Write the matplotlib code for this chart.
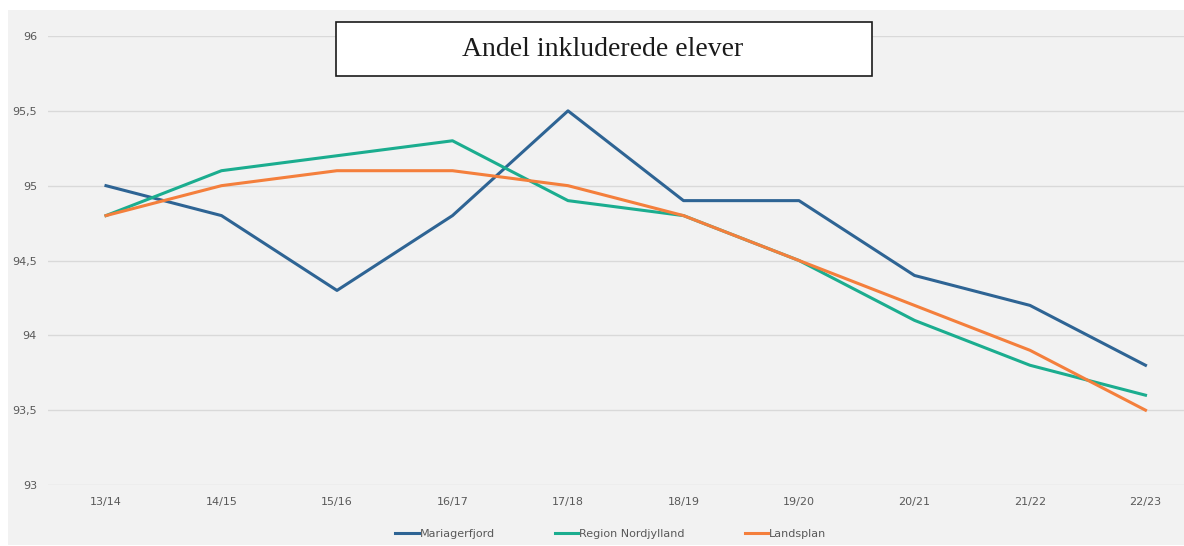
import matplotlib.pyplot as plt
from matplotlib.patches import Rectangle
from matplotlib.ticker import FuncFormatter

# Andel inkluderede elever - line chart, three series

seasons = ["13/14", "14/15", "15/16", "16/17", "17/18",
           "18/19", "19/20", "20/21", "21/22", "22/23"]
mariagerfjord = [95.0, 94.8, 94.3, 94.8, 95.5, 94.9, 94.9, 94.4, 94.2, 93.8]
nordjylland = [94.8, 95.1, 95.2, 95.3, 94.9, 94.8, 94.5, 94.1, 93.8, 93.6]
landsplan = [94.8, 95.0, 95.1, 95.1, 95.0, 94.8, 94.5, 94.2, 93.9, 93.5]
y_ticks = [93, 93.5, 94, 94.5, 95, 95.5, 96]

BLUE = "#2e6494"
TEAL = "#1bad8f"
ORANGE = "#f47f3c"
BG = "#f2f2f2"
TXT = "#595959"

W, H = 1184, 546

fig = plt.figure(figsize=(W / 100, H / 100), dpi=100)
fig.patch.set_facecolor("white")

# gray chart area (cropped screenshot, white margin at left/top)
fig.add_artist(Rectangle((8 / W, 1 - 545 / H), 1 - 8 / W, (545 - 10) / H,
                         transform=fig.transFigure, facecolor=BG,
                         edgecolor="none", zorder=0))

# axes in pixel coords: y 96 at 36px, 93 at 485px
ax = fig.add_axes([48 / W, 1 - 485 / H, (W - 48) / W, (485 - 36) / H])
ax.set_facecolor("none")

x = list(range(len(seasons)))
ax.plot(x, mariagerfjord, color=BLUE, lw=2.2, label="Mariagerfjord",
        solid_joinstyle="round")
ax.plot(x, nordjylland, color=TEAL, lw=2.2, label="Region Nordjylland",
        solid_joinstyle="round")
ax.plot(x, landsplan, color=ORANGE, lw=2.2, label="Landsplan",
        solid_joinstyle="round")

ax.set_ylim(93, 96)
ax.set_xlim(-0.502, (W - 106) / 115.5)
ax.set_yticks(y_ticks)
ax.yaxis.set_major_formatter(FuncFormatter(
    lambda v, p: f"{v:g}".replace(".", ",")))
ax.set_xticks(x)
ax.set_xticklabels(seasons)
ax.grid(axis="y", color="#d9d9d9", lw=1)
ax.set_axisbelow(True)
for s in ax.spines.values():
    s.set_visible(False)
ax.tick_params(length=0, labelsize=8, labelcolor=TXT)
ax.tick_params(axis="y", pad=8)
ax.tick_params(axis="x", pad=9)

leg = fig.legend(loc="center", bbox_to_anchor=(611 / W, 1 - 534 / H),
                 ncol=3, frameon=False, fontsize=8, handlelength=2.1,
                 handletextpad=0.1, columnspacing=5.4)
for t in leg.get_texts():
    t.set_color(TXT)

fig.text(603 / W, 1 - 50 / H, "Andel inkluderede elever",
         ha="center", va="center", fontsize=20, family="Liberation Serif",
         color="#1a1a1a", zorder=3)
fig.add_artist(Rectangle((336 / W, 1 - 76 / H), (872 - 336) / W, 54 / H,
                         transform=fig.transFigure, facecolor="white",
                         edgecolor="#1a1a1a", lw=1.2, zorder=1))

fig.savefig("out.png", dpi=100)
